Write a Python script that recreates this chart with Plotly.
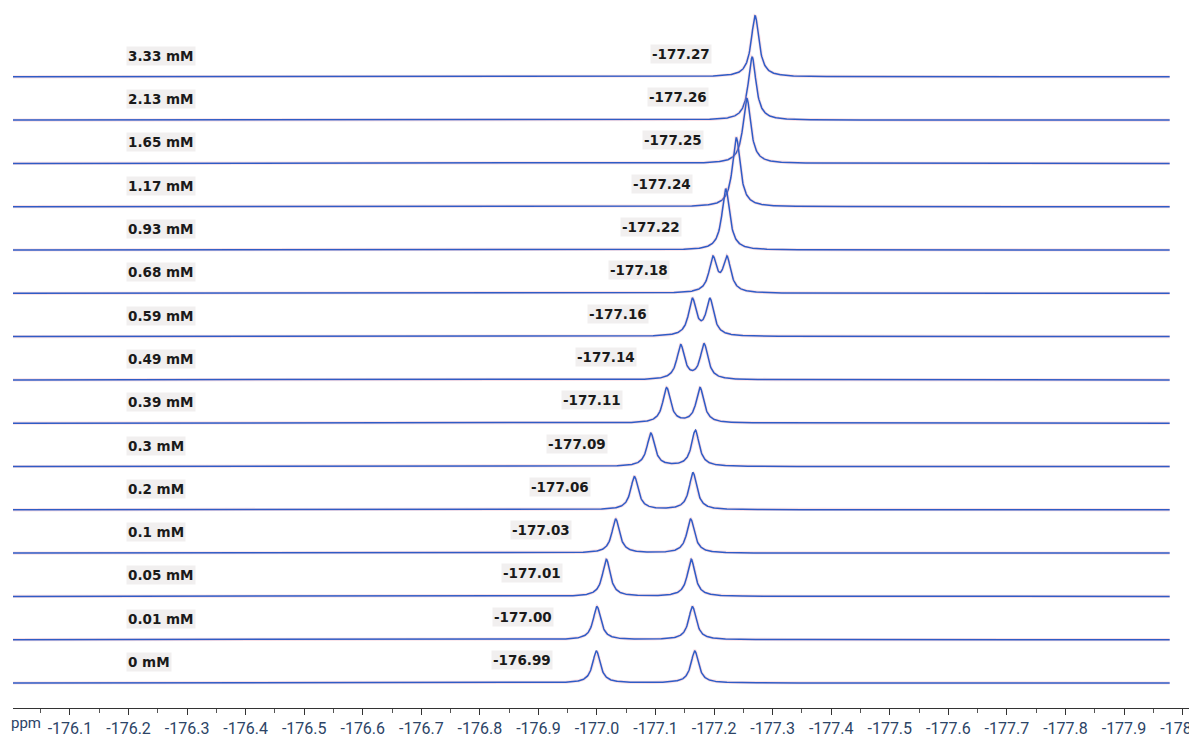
import numpy as np
import plotly.graph_objects as go

# --- data (top = highest concentration) ---
conc_labels = ["3.33 mM", "2.13 mM", "1.65 mM", "1.17 mM", "0.93 mM", "0.68 mM", "0.59 mM",
               "0.49 mM", "0.39 mM", "0.3 mM", "0.2 mM", "0.1 mM", "0.05 mM", "0.01 mM", "0 mM"]
shift_labels = ["-177.27", "-177.26", "-177.25", "-177.24", "-177.22", "-177.18", "-177.16",
                "-177.14", "-177.11", "-177.09", "-177.06", "-177.03", "-177.01", "-177.00", "-176.99"]
# moving peak (ppm) and its intensity (a.u.)
peak1_ppm = [-177.270, -177.265, -177.256, -177.238, -177.220, -177.198, -177.163,
             -177.143, -177.119, -177.092, -177.064, -177.032, -177.016, -177.000, -176.999]
peak1_int = [0.61, 0.63, 0.65, 0.69, 0.61, 0.34, 0.36, 0.34, 0.35, 0.33, 0.33, 0.34, 0.37, 0.33, 0.32]
# second (reference) peak, absent once the signals coalesce
peak2_ppm = [None, None, None, None, None, -177.222, -177.193, -177.183, -177.176,
             -177.168, -177.164, -177.160, -177.161, -177.163, -177.167]
peak2_int = [0, 0, 0, 0, 0, 0.34, 0.36, 0.35, 0.35, 0.36, 0.37, 0.34, 0.37, 0.33, 0.32]

tick_vals = [-176.1, -176.2, -176.3, -176.4, -176.5, -176.6, -176.7, -176.8, -176.9, -177.0,
             -177.1, -177.2, -177.3, -177.4, -177.5, -177.6, -177.7, -177.8, -177.9, -178.0]
tick_text = ["-176.1", "-176.2", "-176.3", "-176.4", "-176.5", "-176.6", "-176.7", "-176.8",
             "-176.9", "-177.0", "-177.1", "-177.2", "-177.3", "-177.4", "-177.5", "-177.6",
             "-177.7", "-177.8", "-177.9", "-178.0"]

HWHM = 0.008        # Lorentzian half width (ppm)
SCALE = 100         # intensity -> plot units
SPACING = 43.3      # vertical stacking offset
BASE = 25           # baseline of the lowest spectrum

ppm = np.linspace(-176.0, -177.978, 2400)


def lorentz(x, x0, a):
    return a / (1 + ((x - x0) / HWHM) ** 2)


n = len(conc_labels)
fig = go.Figure()
annotations = []
label_font = dict(family="DejaVu Sans", size=13.5, color="#1a1a1a", weight="bold")

for i in range(n):
    offset = BASE + (n - 1 - i) * SPACING
    y = lorentz(ppm, peak1_ppm[i], peak1_int[i])
    if peak2_ppm[i] is not None:
        y = y + lorentz(ppm, peak2_ppm[i], peak2_int[i])
    y = offset + SCALE * y

    # faint pink halo under the blue line, as in the scanned figure
    fig.add_trace(go.Scatter(x=ppm, y=y, mode="lines", hoverinfo="skip",
                             line=dict(color="rgba(236,150,170,0.3)", width=3.2),
                             showlegend=False))
    fig.add_trace(go.Scatter(x=ppm, y=y, mode="lines", name=conc_labels[i],
                             line=dict(color="#2f5cc6", width=1.5),
                             showlegend=False))

    annotations.append(dict(x=-176.196, y=offset + 21, xref="x", yref="y",
                            text=conc_labels[i], showarrow=False,
                            xanchor="left", yanchor="middle",
                            bgcolor="rgba(228,224,224,0.5)", borderpad=1,
                            font=label_font))
    annotations.append(dict(x=peak1_ppm[i] + 0.074, y=offset + 23, xref="x", yref="y",
                            text=shift_labels[i], showarrow=False,
                            xanchor="right", yanchor="middle",
                            bgcolor="rgba(228,224,224,0.5)", borderpad=1,
                            font=label_font))

annotations.append(dict(x=0, y=0, xref="paper", yref="paper", text="ppm",
                        showarrow=False, xanchor="left", yanchor="middle",
                        xshift=-4, yshift=-15,
                        font=dict(family="Roboto", size=15, color="#2c4466")))

fig.update_layout(
    width=1189, height=739,
    margin=dict(l=13, r=0, t=0, b=31, autoexpand=False),
    paper_bgcolor="white", plot_bgcolor="white",
    annotations=annotations,
    xaxis=dict(range=[-176.0027, -178.011], tickvals=tick_vals, ticktext=tick_text,
               ticks="outside", ticklen=6, tickcolor="#333", tickwidth=1,
               showline=True, linecolor="#333", linewidth=1, automargin=False,
               showgrid=False, zeroline=False, ticklabeloverflow="allow",
               minor=dict(tick0=-176.0, dtick=0.05, ticks="outside", ticklen=4,
                          tickcolor="#555", showgrid=False),
               tickfont=dict(family="Roboto", size=16, color="#2c4466")),
    yaxis=dict(range=[0, 708], visible=False, fixedrange=True),
)

# the page's default body margin would push the figure off the window
fig.write_html("out.html", config={"displayModeBar": False},
               post_script="document.body.style.margin='0';")
